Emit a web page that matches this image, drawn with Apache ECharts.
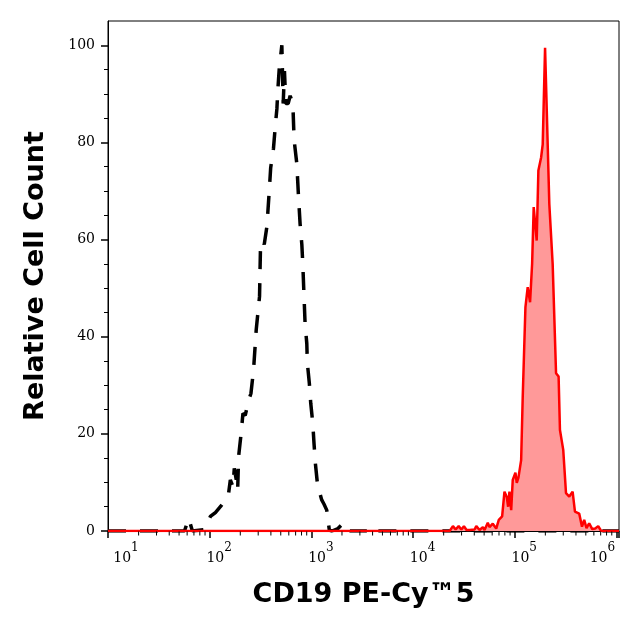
<!DOCTYPE html>
<html>
<head>
<meta charset="utf-8">
<script src="https://cdn.jsdelivr.net/npm/echarts@6/dist/echarts.min.js"></script>
<style>
html,body{margin:0;padding:0;background:#fff;}
#chart{width:640px;height:631px;}
</style>
</head>
<body>
<div id="chart"></div>
<script>
// Isotype control (black dashed) histogram: fluorescence value, relative count
const isoX = [10, 56.5, 62.2, 67.6, 88.7, 94.9, 101.6, 113.8, 127.4, 142.6, 153.6, 159.6, 169.5, 174.6, 182.8, 188.4, 192.4, 203.1, 212.4, 223.7, 241.2, 254.5, 270, 286.8, 309.2, 316, 332.4, 343.9, 365.4, 387.4, 398, 423.8, 440.4, 458, 468.6, 482.4, 512.4, 528.3, 543.6, 561, 591.3, 618.4, 657.4, 676.6, 719.5, 746.5, 775, 805.7, 823.6, 844.5, 867.2, 901.6, 913.8, 955.3, 986, 1032, 1062, 1094, 1145, 1203, 1264, 1333, 1417, 1501, 1594, 1827, 1911, 2059, 2188, 2306, 2394, 3936, 4121, 4307, 4509, 1060000];
const isoY = [0, 0, 2.6, 0, 0.3, 1.5, 3.0, 3.8, 5, 6.4, 7.8, 10.5, 9.1, 12.9, 10.5, 8.4, 15.3, 19.8, 24.2, 23.8, 26.9, 28.3, 33.2, 41.4, 48.3, 58.5, 59.8, 59, 62.7, 70.8, 74.8, 78.7, 83, 86.9, 91, 95, 100, 88, 94.7, 88, 88, 89.6, 88, 80.5, 75.6, 69, 63.2, 59, 55, 49, 42.7, 38.6, 34.5, 30.4, 26.3, 22.2, 18, 14, 9.9, 8, 6.4, 5.5, 4.3, 0.2, 0, 0.5, 0.9, 1.6, 0.8, 0.9, 0, 0, 0.6, 0.3, 0, 0];

// CD19 stained (red filled) histogram
const cd19X = [10, 18280, 22900, 24660, 26230, 28070, 29850, 31640, 33580, 35970, 40270, 41870, 45110, 48580, 50470, 54330, 56470, 60800, 65730, 69700, 75170, 79250, 83530, 86100, 88720, 92250, 95570, 101600, 104700, 108700, 115600, 119800, 127400, 134100, 141500, 148200, 153600, 159600, 164400, 170800, 181700, 188400, 198700, 203200, 218800, 236000, 254800, 270000, 278400, 299900, 319200, 343800, 370800, 391000, 430400, 458400, 482000, 508000, 539600, 578000, 618500, 662200, 708000, 1060000];
const cd19Y = [0, 0, 0, 1, 0.3, 1, 0.3, 1, 0.2, 0.2, 0.3, 1, 0.2, 0.8, 0.2, 1.7, 0.8, 1.5, 0.5, 2.3, 3, 8.1, 7, 5, 8.1, 4.3, 10.5, 12, 9.9, 11, 14.6, 27.6, 46.1, 50.2, 47.1, 55, 66.7, 66.7, 59.8, 74.2, 76.9, 79.6, 99.5, 99.5, 67.3, 55, 32.5, 31.8, 20.8, 16.7, 7.8, 7.1, 8.1, 4, 3.6, 0.9, 2.3, 0.6, 1.6, 0.4, 0.5, 1, 0, 0];

// Axis ticks
const yMajorTicks = [0, 20, 40, 60, 80, 100];
const yMinorTicks = [5, 10, 15, 25, 30, 35, 45, 50, 55, 65, 70, 75, 85, 90, 95];
const xMajorTicks = [10, 100, 1000, 10000, 100000, 1000000];
const xMinorTicks = [20, 30, 40, 50, 60, 70, 80, 90,
  200, 300, 400, 500, 600, 700, 800, 900,
  2000, 3000, 4000, 5000, 6000, 7000, 8000, 9000,
  20000, 30000, 40000, 50000, 60000, 70000, 80000, 90000,
  200000, 300000, 400000, 500000, 600000, 700000, 800000, 900000];
const xMin = 10, xMax = 1060000;

const xTitle = 'CD19 PE-Cy™5';
const yTitle = 'Relative Cell Count';

const isoData = isoX.map((x, i) => [x, isoY[i]]);
const cd19Data = cd19X.map((x, i) => [x, cd19Y[i]]);

const chart = echarts.init(document.getElementById('chart'), null, {renderer: 'canvas'});
const serif = 'DejaVu Serif';
const bold = 'DejaVu Sans';

chart.setOption({
  animation: false,
  backgroundColor: '#fff',
  grid: {left: 108, right: 21, top: 21, bottom: 100, show: true, borderColor: '#000', borderWidth: 1, backgroundColor: 'transparent'},
  xAxis: [{
    type: 'log', logBase: 10, min: xMin, max: xMax, position: 'bottom',
    axisLine: {show: true, lineStyle: {color: '#000', width: 1}},
    axisTick: {show: true, length: 7, lineStyle: {color: '#000', width: 1.5}},
    minorTick: {show: false},
    splitLine: {show: false},
    axisLabel: {
      margin: 10, color: '#000',
      formatter: function (v) {
        const n = Math.round(Math.log10(v));
        if (xMajorTicks.indexOf(v) < 0) return '';
        if (n === 1) return '{sp1| }{b|10}{s|' + n + '}';
        if (n === 6) return '{b|10}{s|' + n + '}{sp6| }';
        return '{sp| }{b|10}{s|' + n + '}';
      },
      rich: {
        b: {fontFamily: serif, fontSize: 14, color: '#000', padding: [10, 0, 0, 0]},
        s: {fontFamily: serif, fontSize: 12, color: '#000', padding: [0, 0, 10, 0]},
        sp: {width: 19}, sp1: {width: 36}, sp6: {width: 28}
      }
    },
    name: xTitle, nameLocation: 'middle', nameGap: 50,
    nameTextStyle: {fontFamily: bold, fontWeight: 'bold', fontSize: 27, color: '#000'}
  }],
  yAxis: [{
    type: 'value', min: 0, max: 105, interval: 20, position: 'left',
    axisLine: {show: true, lineStyle: {color: '#000', width: 1}},
    axisTick: {show: true, customValues: yMajorTicks, length: 7, lineStyle: {color: '#000', width: 1.5}},
    splitLine: {show: false},
    axisLabel: {customValues: yMajorTicks, margin: 13, fontFamily: serif, fontSize: 14, color: '#000'},
    name: yTitle, nameLocation: 'middle', nameGap: 59, nameRotate: 90,
    nameTextStyle: {fontFamily: bold, fontWeight: 'bold', fontSize: 27, color: '#000'}
  }, {
    type: 'value', min: 0, max: 105, position: 'left',
    axisLine: {show: false},
    axisTick: {show: true, customValues: yMinorTicks, length: 4, lineStyle: {color: '#000', width: 1}},
    axisLabel: {show: false}, splitLine: {show: false}
  }],
  series: [{
    type: 'line', data: isoData, xAxisIndex: 0, yAxisIndex: 0,
    showSymbol: false, symbol: 'none', z: 2,
    lineStyle: {color: '#000', width: 3.5, type: [18, 14]}
  }, {
    type: 'line', data: cd19Data, xAxisIndex: 0, yAxisIndex: 0,
    showSymbol: false, symbol: 'none', z: 3,
    lineStyle: {color: '#ff0000', width: 2.5},
    areaStyle: {color: '#ff9999', opacity: 1}
  }, {
    // minor log ticks (2..9 x 10^n) below the x axis
    type: 'custom', xAxisIndex: 0, yAxisIndex: 0, silent: true, clip: false, z: 5,
    data: xMinorTicks.map(v => [v, 0]),
    renderItem: function (params, api) {
      const p = api.coord([api.value(0), 0]);
      return {
        type: 'line',
        shape: {x1: p[0], y1: p[1] + 0.5, x2: p[0], y2: p[1] + 4.5},
        style: {stroke: '#000', lineWidth: 1}
      };
    }
  }]
});
</script>
</body>
</html>
